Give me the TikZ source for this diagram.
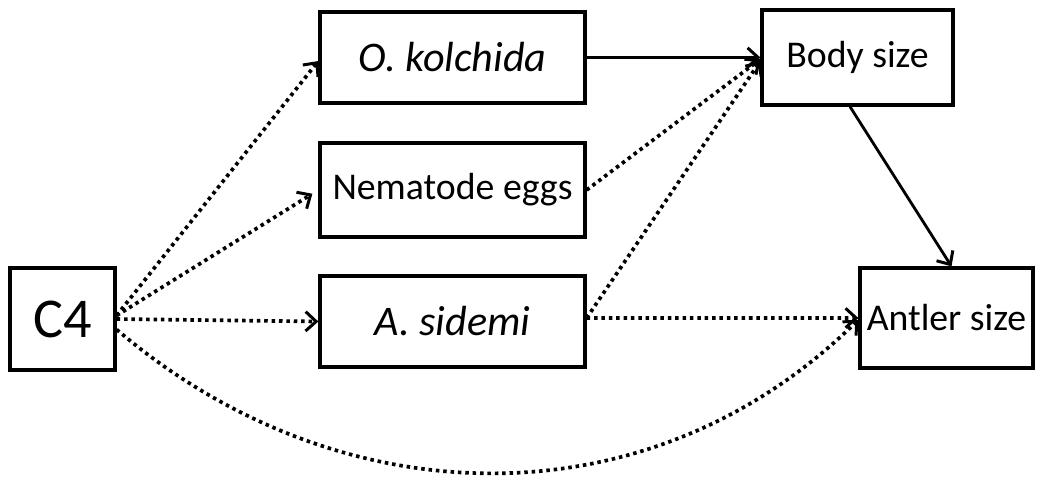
\documentclass[tikz,border=0pt]{standalone}
\usepackage{fontspec}
\setmainfont{Carlito}
\usetikzlibrary{arrows.meta}

\begin{document}
\begin{tikzpicture}[x=0.02cm,y=-0.02cm]
\tikzstyle{every node}=[draw, shape=rectangle, line width=1.9pt, font=\fontsize{21.5}{24}\selectfont, inner sep=0pt]
\tikzstyle{dot}=[line width=2.1pt, dash pattern=on 2pt off 2.2pt, -{Straight Barb[length=6pt,width=11pt,line width=1.7pt]}]
\tikzstyle{solid}=[line width=1.6pt, -{Straight Barb[length=6pt,width=11pt,line width=1.7pt]}]
\tikzstyle{sp}=[font=\fontsize{24}{26}\selectfont\itshape]
\useasboundingbox (0,0) rectangle (1038,478);
\node at (62.5,319) [minimum width=2.1cm, minimum height=2.04cm, font=\fontsize{32}{36}\selectfont] (c4) {C4};
\node at (452.5,57.5) [sp, minimum width=5.3cm, minimum height=1.82cm] (kol) {O. kolchida};
\node at (452.5,190) [minimum width=5.3cm, minimum height=1.88cm] (nem) {Nematode eggs};
\node at (452.5,321.5) [sp, minimum width=5.3cm, minimum height=1.82cm] (sid) {A. sidemi};
\node at (857.5,57.5) [minimum width=3.82cm, minimum height=1.9cm] (body) {Body size};
\node at (946.5,318) [minimum width=3.46cm, minimum height=2cm] (ant) {Antler size};
\draw[dot] ([yshift=2pt]c4.east) -- ([yshift=-2pt]kol.west);
\draw[dot, shorten >=4pt] ([yshift=2pt]c4.east) -- (nem.west);
\draw[dot] (c4.east) -- (sid.west);
\draw[dot] ([yshift=-6pt]c4.east) .. controls (340,520) and (650,525) .. ([yshift=-1pt]ant.west);
\draw[solid] (kol.east) -- (body.west);
\draw[dot] (nem.east) -- ([yshift=-1pt]body.west);
\draw[dot] ([yshift=2pt]sid.east) -- ([yshift=-2pt]body.west);
\draw[dot] ([yshift=2pt]sid.east) -- (ant.west);
\draw[solid] ([xshift=-0.15cm]body.south) -- ([xshift=0.1cm]ant.north);
\end{tikzpicture}
\end{document}
